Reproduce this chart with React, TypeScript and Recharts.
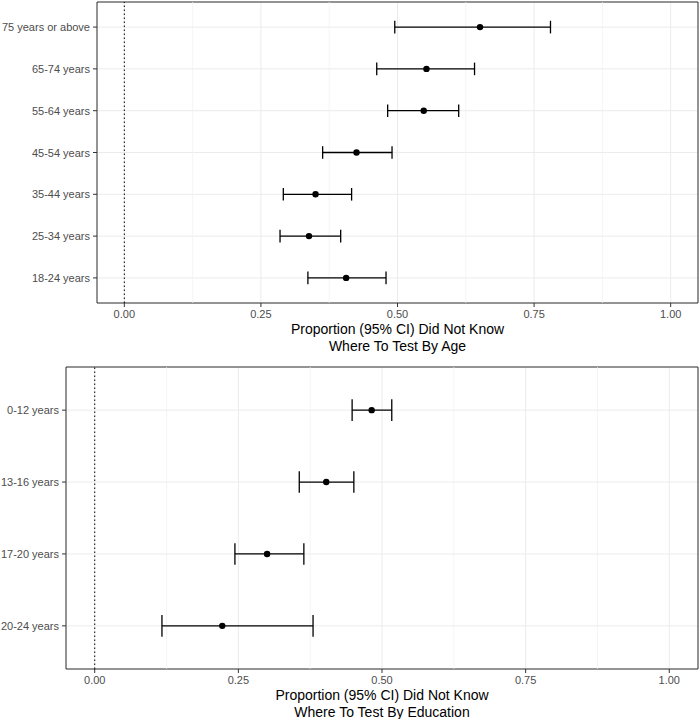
import React from "react";
import {
  CartesianGrid,
  ErrorBar,
  Label,
  ReferenceArea,
  ReferenceLine,
  Scatter,
  ScatterChart,
  XAxis,
  YAxis,
} from "recharts";

const ageGroups = [
  "75 years or above",
  "65-74 years",
  "55-64 years",
  "45-54 years",
  "35-44 years",
  "25-34 years",
  "18-24 years",
];
const ageEst = [0.651, 0.553, 0.548, 0.425, 0.35, 0.338, 0.406];
const ageLow = [0.495, 0.462, 0.482, 0.363, 0.291, 0.285, 0.336];
const ageHigh = [0.78, 0.641, 0.612, 0.49, 0.416, 0.396, 0.479];

const eduGroups = ["0-12 years", "13-16 years", "17-20 years", "20-24 years"];
const eduEst = [0.482, 0.403, 0.3, 0.222];
const eduLow = [0.448, 0.356, 0.244, 0.117];
const eduHigh = [0.517, 0.451, 0.364, 0.38];

const xTicks = [0, 0.25, 0.5, 0.75, 1];
const minorTicks = [0.125, 0.375, 0.625, 0.875];

const font = "'Liberation Sans', Arial, Helvetica, sans-serif";

function Dot(props: any) {
  return <circle cx={props.cx} cy={props.cy} r={3.2} fill="#000" />;
}

function Panel({
  groups,
  est,
  low,
  high,
  title,
  width,
  height,
  yWidth,
  top,
  plotBottom,
  cap,
}: {
  groups: string[];
  est: number[];
  low: number[];
  high: number[];
  title: string[];
  width: number;
  height: number;
  yWidth: number;
  top: number;
  plotBottom: number;
  cap: number;
}) {
  const data = groups.map((g, i) => ({
    pos: i,
    est: est[i],
    err: [est[i] - low[i], high[i] - est[i]],
  }));
  const n = groups.length;

  return (
    <ScatterChart
      width={width}
      height={height}
      margin={{ top, right: 2, bottom: 0, left: 0 }}
      style={{ fontFamily: font }}
    >
      <CartesianGrid stroke="#ebebeb" strokeWidth={1} />
      {minorTicks.map((t) => (
        <ReferenceLine key={t} x={t} stroke="#f0f0f0" strokeWidth={0.7} />
      ))}
      <XAxis
        type="number"
        dataKey="est"
        domain={[-0.05, 1.05]}
        ticks={xTicks}
        tickFormatter={(v: number) => v.toFixed(2)}
        axisLine={false}
        tickLine={{ stroke: "#333" }}
        tickSize={4}
        tickMargin={3}
        tick={{ fill: "#4d4d4d", fontSize: 11 }}
        height={height - plotBottom}
        interval={0}
      >
        <Label
          content={(p: any) => {
            const vb = p.viewBox;
            const cx = vb.x + vb.width / 2;
            return (
              <text
                textAnchor="middle"
                fontSize={14}
                fill="#000"
                fontFamily={font}
              >
                <tspan x={cx} y={vb.y + 31}>
                  {title[0]}
                </tspan>
                <tspan x={cx} y={vb.y + 48}>
                  {title[1]}
                </tspan>
              </text>
            );
          }}
        />
      </XAxis>
      <YAxis
        type="number"
        dataKey="pos"
        domain={[-0.6, n - 1 + 0.6]}
        ticks={groups.map((_, i) => i)}
        reversed
        axisLine={false}
        tickLine={{ stroke: "#333" }}
        tickSize={4}
        tickMargin={3}
        tick={(p: any) => (
          <text
            x={p.x}
            y={p.y}
            textAnchor="end"
            dominantBaseline="central"
            fill="#4d4d4d"
            fontSize={11}
            fontFamily={font}
          >
            {groups[p.payload.value]}
          </text>
        )}
        width={yWidth}
        interval={0}
      />
      <ReferenceLine
        x={0}
        stroke="#000"
        strokeWidth={1}
        strokeDasharray="1.5 2.5"
      />
      <ReferenceArea
        x1={-0.05}
        x2={1.05}
        y1={-0.6}
        y2={n - 1 + 0.6}
        fill="none"
        fillOpacity={0}
        stroke="#333"
        strokeWidth={1}
        ifOverflow="visible"
      />
      <Scatter data={data} shape={Dot} isAnimationActive={false}>
        <ErrorBar
          dataKey="err"
          direction="x"
          width={cap}
          stroke="#000"
          strokeWidth={1.3}
          isAnimationActive={false}
        />
      </Scatter>
    </ScatterChart>
  );
}

export default function App() {
  return (
    <div
      style={{
        position: "absolute",
        left: 0,
        top: 0,
        width: 700,
        height: 719,
        background: "#fff",
      }}
    >
      <Panel
        groups={ageGroups}
        est={ageEst}
        low={ageLow}
        high={ageHigh}
        title={["Proportion (95% CI) Did Not Know", "Where To Test By Age"]}
        width={700}
        height={360}
        yWidth={97}
        top={2}
        plotBottom={303}
        cap={6.3}
      />
      <Panel
        groups={eduGroups}
        est={eduEst}
        low={eduLow}
        high={eduHigh}
        title={["Proportion (95% CI) Did Not Know", "Where To Test By Education"]}
        width={700}
        height={359}
        yWidth={66}
        top={7}
        plotBottom={309}
        cap={10.8}
      />
    </div>
  );
}
